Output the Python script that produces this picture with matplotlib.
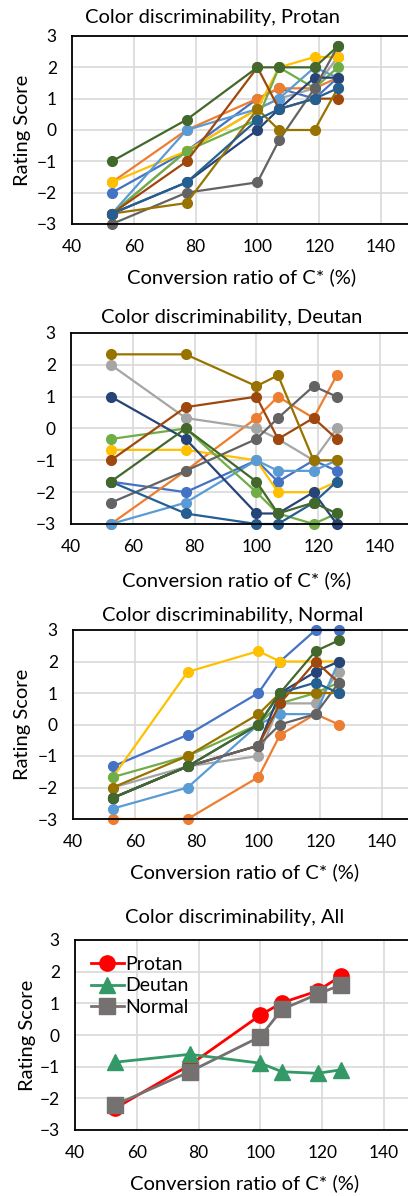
import matplotlib
matplotlib.use("Agg")
import matplotlib.pyplot as plt

plt.rcParams["font.family"] = ["Lato", "DejaVu Sans"]

# conversion ratio of C* (%)
ratio = [52.9, 77.1, 100, 107, 118.5, 126]

# Excel default palette, one colour per subject
colors = ["#4472C4", "#ED7D31", "#A5A5A5", "#FFC000", "#5B9BD5", "#70AD47",
          "#264478", "#9E480E", "#636363", "#997300", "#255E91", "#43682B"]

protan = [
    [-2.0, -0.67, 1.0, 1.33, 1.0, 1.67],
    [-1.67, 0.0, 1.0, 1.33, 1.33, 1.67],
    [-2.67, -0.67, 0.67, 1.0, 1.33, 2.33],
    [-1.67, -0.67, 0.67, 2.0, 2.33, 2.33],
    [-2.67, 0.0, 0.67, 1.0, 2.0, 1.67],
    [-2.67, -0.67, 0.33, 2.0, 1.33, 2.0],
    [-2.67, -1.67, 0.0, 0.67, 1.67, 1.67],
    [-2.67, -1.0, 2.0, 0.67, 1.0, 1.0],
    [-3.0, -2.0, -1.67, -0.33, 1.33, 2.67],
    [-2.67, -2.33, 0.67, 0.0, 0.0, 1.33],
    [-2.67, -1.67, 0.33, 0.67, 1.0, 1.33],
    [-1.0, 0.33, 2.0, 2.0, 2.0, 2.67],
]

deutan = [
    [-1.67, -2.0, -1.0, -1.67, -1.0, -1.33],
    [-3.0, -1.33, 0.33, 1.0, 0.33, 1.67],
    [2.0, 0.33, 0.0, -0.33, -1.0, 0.0],
    [-0.67, -0.67, -1.0, -2.0, -2.0, -1.67],
    [-3.0, -2.33, -1.0, -1.33, -1.33, -1.0],
    [-0.33, 0.0, -2.0, -2.67, -3.0, -2.67],
    [1.0, -0.33, -2.67, -2.67, -2.0, -3.0],
    [-1.0, 0.67, 1.0, -0.33, 0.33, -0.33],
    [-2.33, -1.33, -0.33, 0.33, 1.33, 1.0],
    [2.33, 2.33, 1.33, 1.67, -1.0, -1.0],
    [-1.67, -2.67, -3.0, -3.0, -2.33, -1.67],
    [-1.67, 0.0, -1.67, -2.67, -2.33, -2.67],
]

normal = [
    [-1.33, -0.33, 1.0, 2.0, 3.0, 3.0],
    [-3.0, -3.0, -1.67, -0.33, 0.33, 0.0],
    [-2.0, -1.33, -1.0, 0.67, 0.67, 1.67],
    [-1.67, 1.67, 2.33, 2.0, 2.0, 2.0],
    [-2.67, -2.0, 0.0, 0.33, 0.33, 2.0],
    [-1.67, -1.0, 0.0, 0.67, 1.0, 1.33],
    [-2.33, -1.33, -0.67, 1.0, 1.67, 2.0],
    [-2.33, -1.33, -0.67, 0.67, 2.0, 1.33],
    [-2.33, -1.33, -0.67, 0.0, 0.33, 1.33],
    [-2.0, -1.0, 0.33, 1.0, 1.0, 1.0],
    [-2.33, -1.33, 0.0, 1.0, 1.33, 1.0],
    [-2.33, -1.33, 0.0, 1.0, 2.33, 2.67],
]

# group means
mean_protan = [-2.32, -0.95, 0.63, 1.02, 1.39, 1.86]
mean_deutan = [-0.86, -0.61, -0.89, -1.16, -1.21, -1.10]
mean_normal = [-2.21, -1.16, -0.05, 0.81, 1.29, 1.58]

W, H = 408, 1196
fig = plt.figure(figsize=(W / 100, H / 100), dpi=100)


def make_axes(left, top, bottom):
    width = 110 * 3.09
    ax = fig.add_axes([left / W, 1 - bottom / H, width / W, (bottom - top) / H])
    ax.set_xlim(40, 150)
    ax.set_ylim(-3, 3)
    ax.set_xticks([40, 60, 80, 100, 120, 140])
    ax.set_yticks(range(-3, 4))
    ax.grid(True, color="#D9D9D9", linewidth=1.2)
    ax.set_axisbelow(True)
    ax.tick_params(length=0, labelsize=12.5, pad=11)
    for s in ax.spines.values():
        s.set_color("black")
        s.set_linewidth(1.3)
    return ax


panels = [
    (protan, "Color discriminability, Protan", 72, 36, 224, 212, 18, 242, 277, True),
    (deutan, "Color discriminability, Deutan", 71, 333, 524, 232, 317, 237, 580, False),
    (normal, "Color discriminability, Normal", 73, 630, 819, 233, 616, 245, 872, True),
]

for data, title, left, top, bottom, tx, ty, lx, ly, ylab in panels:
    ax = make_axes(left, top, bottom)
    for vals, c in zip(data, colors):
        ax.plot(ratio, vals, color=c, linewidth=1.6, marker="o", markersize=7, clip_on=False)
    fig.text(tx / W, 1 - ty / H, title, ha="center", va="center", fontsize=14.5)
    fig.text(lx / W, 1 - ly / H, "Conversion ratio of C* (%)", ha="center", va="center", fontsize=14.5)
    if ylab:
        fig.text(23 / W, 1 - (top + bottom) / 2 / H, "Rating Score", rotation=90,
                 ha="center", va="center", fontsize=14.5)

ax = make_axes(75, 940, 1130)
ax.plot(ratio, mean_protan, color="#FF0000", linewidth=2, marker="o", markersize=11,
        label="Protan", clip_on=False)
ax.plot(ratio, mean_deutan, color="#339966", linewidth=2, marker="^", markersize=12,
        label="Deutan", clip_on=False)
ax.plot(ratio, mean_normal, color="#767171", linewidth=2, marker="s", markersize=11,
        label="Normal", clip_on=False)
ax.legend(loc="upper left", frameon=False, fontsize=14, handlelength=1.7,
          handletextpad=0.1, borderaxespad=0.4, labelspacing=0.25)
fig.text(235 / W, 1 - 917 / H, "Color discriminability, All", ha="center", va="center", fontsize=14.5)
fig.text(245 / W, 1 - 1183 / H, "Conversion ratio of C* (%)", ha="center", va="center", fontsize=14.5)
fig.text(28 / W, 1 - 1035 / H, "Rating Score", rotation=90, ha="center", va="center", fontsize=14.5)

fig.savefig("out.png", dpi=100)
